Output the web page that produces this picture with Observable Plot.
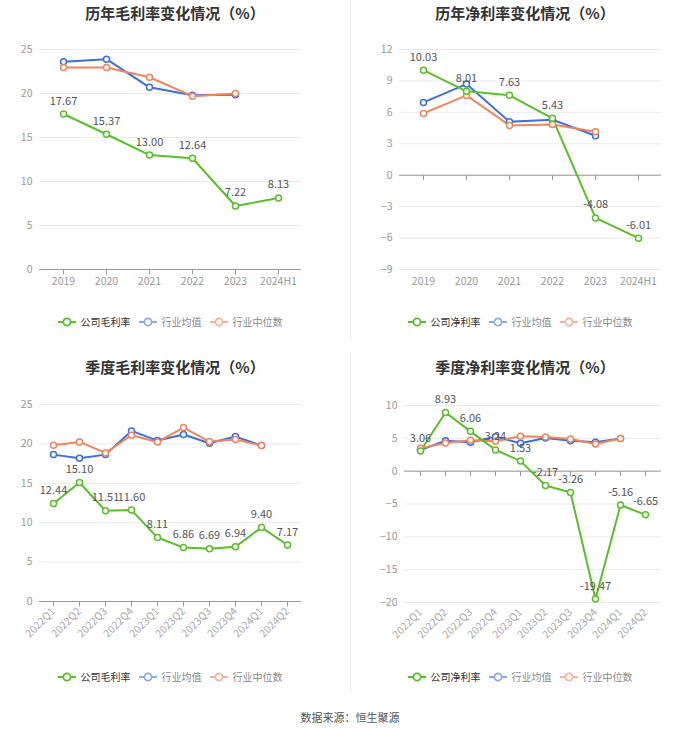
<!DOCTYPE html>
<html>
<head>
<meta charset="utf-8">
<script src="https://cdn.jsdelivr.net/npm/d3@7"></script>
<script src="https://cdn.jsdelivr.net/npm/@observablehq/plot@0.6"></script>
<style>
  html, body { margin: 0; padding: 0; background: #fff; }
  body { font-family: "Noto Sans CJK SC", "Noto Sans", sans-serif; }
  #root { position: relative; width: 700px; height: 734px; overflow: hidden; background: #fff; }
  .title { position: absolute; width: 350px; text-align: center; font-size: 15px; font-weight: bold; color: #333; line-height: 20px; }
  .chart { position: absolute; }
  .legend { position: absolute; width: 350px; display: flex; justify-content: center; align-items: center; font-size: 10px; line-height: 14px; }
  .legend .item { display: flex; align-items: center; margin: 0 4px; }
  .legend .item svg { margin-right: 5px; }
  .sep { position: absolute; left: 350px; width: 1px; background: #f2f2f2; }
  .footer { position: absolute; left: 0; width: 700px; text-align: center; font-size: 11px; color: #555; top: 709px; line-height: 16px; }
</style>
</head>
<body>
<div id="root"></div>
<script>
// ---------------- data ----------------
const annualCats = ["2019", "2020", "2021", "2022", "2023", "2024H1"];
const annualGrossCompany = [17.67, 15.37, 13.00, 12.64, 7.22, 8.13];
const annualGrossAvg = [23.6, 23.9, 20.7, 19.8, 19.85];
const annualGrossMedian = [22.95, 22.95, 21.85, 19.7, 20.0];

const annualNetCompany = [10.03, 8.01, 7.63, 5.43, -4.08, -6.01];
const annualNetAvg = [6.95, 8.7, 5.1, 5.3, 3.77];
const annualNetMedian = [5.9, 7.62, 4.75, 4.85, 4.15];

const quarterCats = ["2022Q1", "2022Q2", "2022Q3", "2022Q4", "2023Q1", "2023Q2", "2023Q3", "2023Q4", "2024Q1", "2024Q2"];
const quarterGrossCompany = [12.44, 15.10, 11.51, 11.60, 8.11, 6.86, 6.69, 6.94, 9.40, 7.17];
const quarterGrossAvg = [18.64, 18.18, 18.64, 21.65, 20.42, 21.19, 20.08, 20.93, 19.79];
const quarterGrossMedian = [19.83, 20.25, 18.86, 21.1, 20.25, 22.08, 20.3, 20.55, 19.79];

const quarterNetCompany = [3.06, 8.93, 6.06, 3.24, 1.53, -2.17, -3.26, -19.47, -5.16, -6.65];
const quarterNetAvg = [3.23, 4.65, 4.4, 5.26, 4.25, 5.06, 4.65, 4.4, 4.96];
const quarterNetMedian = [3.48, 4.3, 4.7, 4.55, 5.31, 5.21, 4.9, 4.14, 4.96];

const grossTicks = [0, 5, 10, 15, 20, 25];
const annualNetTicks = [-9, -6, -3, 0, 3, 6, 9, 12];
const quarterNetTicks = [-20, -15, -10, -5, 0, 5, 10];

const seriesNames = {
  gross: ["公司毛利率", "行业均值", "行业中位数"],
  net: ["公司净利率", "行业均值", "行业中位数"]
};
const titles = ["历年毛利率变化情况（%）", "历年净利率变化情况（%）", "季度毛利率变化情况（%）", "季度净利率变化情况（%）"];
const sourceText = "数据来源：恒生聚源";

// ---------------- styles ----------------
const GREEN = "#5bbd2b", BLUE = "#3c6fd8", ORANGE = "#f2845d";
const GREEN_L = "#5bbd2b", BLUE_L = "#8fa9e6", ORANGE_L = "#f5b39b";

const tickSymbol = { draw(ctx) { ctx.moveTo(0, 0); ctx.lineTo(0, 5); } };

function rows(cats, vals) { return vals.map((v, i) => ({ x: cats[i], y: v })); }

function makeChart(o) {
  const comp = rows(o.cats, o.company), avg = rows(o.cats, o.avg), med = rows(o.cats, o.median);
  const lineOpts = (c) => ({ x: "x", y: "y", stroke: c, strokeWidth: 2 });
  const dotOpts = (c) => ({ x: "x", y: "y", stroke: c, fill: "#fff", r: 3, strokeWidth: 1.5 });
  return Plot.plot({
    width: 350, height: o.height,
    marginLeft: o.ml, marginRight: o.mr, marginTop: o.mt, marginBottom: o.mb,
    style: { fontFamily: '"Noto Sans CJK SC", "Noto Sans", sans-serif', background: "transparent", overflow: "visible" },
    x: { type: "point", domain: o.cats, padding: 0.5 },
    y: { domain: [o.yTicks[0], o.yTicks[o.yTicks.length - 1]] },
    marks: [
      Plot.gridY(o.yTicks, { stroke: "#e9e9e9", strokeOpacity: 1 }),
      Plot.axisY(o.yTicks, { tickSize: 0, tickPadding: 7, fill: "#999", fontSize: 10.5, label: null }),
      Plot.axisX(o.cats, o.rotate
        ? { tickSize: 0, tickPadding: 8, tickRotate: -45, fill: "#aaa", fontSize: 10.5, label: null }
        : { tickSize: 0, tickPadding: 8, fill: "#999", fontSize: 10.5, label: null }),
      Plot.ruleY([0], { stroke: "#999", strokeWidth: 1 }),
      Plot.dot(o.cats, { x: d => d, y: () => 0, symbol: tickSymbol, stroke: "#999", fill: "none", strokeWidth: 1 }),
      Plot.line(avg, lineOpts(BLUE)),
      Plot.line(med, lineOpts(ORANGE)),
      Plot.line(comp, lineOpts(GREEN)),
      Plot.dot(avg, dotOpts(BLUE)),
      Plot.dot(med, dotOpts(ORANGE)),
      Plot.dot(comp, dotOpts(GREEN)),
      Plot.text(comp, { x: "x", y: "y", text: d => d.y.toFixed(2), dy: -13, fill: "#555", fontSize: 11, stroke: "none" })
    ]
  });
}

function legendIcon(color) {
  return `<svg width="18" height="10" viewBox="0 0 18 10"><line x1="0" y1="5" x2="18" y2="5" stroke="${color}" stroke-width="2"/><circle cx="9" cy="5" r="3.6" fill="#fff" stroke="${color}" stroke-width="1.8"/></svg>`;
}

const root = document.getElementById("root");

function addDiv(cls, style, html) {
  const d = document.createElement("div");
  d.className = cls;
  Object.assign(d.style, style);
  d.innerHTML = html;
  root.appendChild(d);
  return d;
}

// separators
addDiv("sep", { top: "0px", height: "340px" }, "");
addDiv("sep", { top: "352px", height: "340px" }, "");

const panels = [
  { left: 0, top: 0, title: titles[0], names: seriesNames.gross,
    cfg: { cats: annualCats, company: annualGrossCompany, avg: annualGrossAvg, median: annualGrossMedian, yTicks: grossTicks,
           height: 270, ml: 39, mr: 49, mt: 19, mb: 31, rotate: false }, svgTop: 30, legendTop: 315 },
  { left: 350, top: 0, title: titles[1], names: seriesNames.net,
    cfg: { cats: annualCats, company: annualNetCompany, avg: annualNetAvg, median: annualNetMedian, yTicks: annualNetTicks,
           height: 270, ml: 49, mr: 39, mt: 19, mb: 31, rotate: false }, svgTop: 30, legendTop: 315 },
  { left: 0, top: 354, title: titles[2], names: seriesNames.gross,
    cfg: { cats: quarterCats, company: quarterGrossCompany, avg: quarterGrossAvg, median: quarterGrossMedian, yTicks: grossTicks,
           height: 270, ml: 39, mr: 49, mt: 24, mb: 49, rotate: true }, svgTop: 380, legendTop: 670 },
  { left: 350, top: 354, title: titles[3], names: seriesNames.net,
    cfg: { cats: quarterCats, company: quarterNetCompany, avg: quarterNetAvg, median: quarterNetMedian, yTicks: quarterNetTicks,
           height: 270, ml: 54, mr: 39, mt: 25, mb: 48, rotate: true }, svgTop: 380, legendTop: 670 }
];

for (const p of panels) {
  addDiv("title", { left: p.left + "px", top: (p.top + 3) + "px" }, p.title);
  const holder = addDiv("chart", { left: p.left + "px", top: p.svgTop + "px" }, "");
  holder.appendChild(makeChart(p.cfg));
  const colors = [[GREEN_L, "#333"], [BLUE_L, "#888"], [ORANGE_L, "#888"]];
  const html = p.names.map((n, i) => `<div class="item">${legendIcon(colors[i][0])}<span style="color:${colors[i][1]}">${n}</span></div>`).join("");
  addDiv("legend", { left: (p.left - 5) + "px", top: p.legendTop + "px" }, html);
}

addDiv("footer", {}, sourceText);
</script>
</body>
</html>
